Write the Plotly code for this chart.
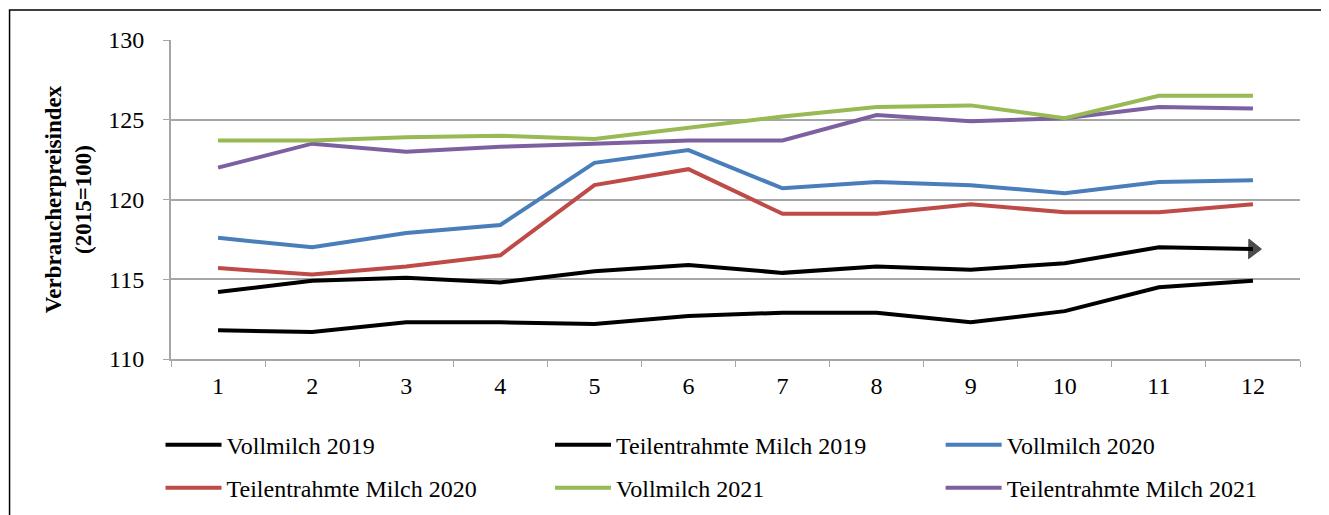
import plotly.graph_objects as go

months = [1, 2, 3, 4, 5, 6, 7, 8, 9, 10, 11, 12]

voll_2019 = [114.2, 114.9, 115.1, 114.8, 115.5, 115.9, 115.4, 115.8, 115.6, 116.0, 117.0, 116.9]
teil_2019 = [111.8, 111.7, 112.3, 112.3, 112.2, 112.7, 112.9, 112.9, 112.3, 113.0, 114.5, 114.9]
voll_2020 = [117.6, 117.0, 117.9, 118.4, 122.3, 123.1, 120.7, 121.1, 120.9, 120.4, 121.1, 121.2]
teil_2020 = [115.7, 115.3, 115.8, 116.5, 120.9, 121.9, 119.1, 119.1, 119.7, 119.2, 119.2, 119.7]
voll_2021 = [123.7, 123.7, 123.9, 124.0, 123.8, 124.5, 125.2, 125.8, 125.9, 125.1, 126.5, 126.5]
teil_2021 = [122.0, 123.5, 123.0, 123.3, 123.5, 123.7, 123.7, 125.3, 124.9, 125.1, 125.8, 125.7]

y_ticks = [110, 115, 120, 125, 130]

FONT = "Liberation Serif, Times New Roman, serif"
GRID = "#A6A6A6"

fig = go.Figure()

# (name, values, colour, legend slot) - legend slots: 1-3 first row, 4-6 second row
series = [
    ("Teilentrahmte Milch 2021", teil_2021, "#7D60A0", "legend6"),
    ("Vollmilch 2021", voll_2021, "#98B954", "legend5"),
    ("Teilentrahmte Milch 2020", teil_2020, "#BE4B48", "legend4"),
    ("Vollmilch 2020", voll_2020, "#4A7EBB", "legend3"),
    ("Teilentrahmte Milch 2019", teil_2019, "#000000", "legend2"),
]

for name, values, color, leg in series:
    fig.add_trace(
        go.Scatter(
            x=months,
            y=values,
            mode="lines",
            name=name,
            line=dict(color=color, width=4),
            legend=leg,
            showlegend=True,
        )
    )

# Vollmilch 2019 ends with an arrow head
arrow_sizes = [0] * (len(months) - 1) + [17]
fig.add_trace(
    go.Scatter(
        x=months,
        y=voll_2019,
        mode="lines+markers",
        name="Vollmilch 2019",
        line=dict(color="#000000", width=4),
        marker=dict(
            symbol="triangle-up",
            angleref="previous",
            size=arrow_sizes,
            color="#000000",
            line=dict(width=1, color="#000000"),
        ),
        legend="legend",
        showlegend=True,
    )
)

legend_common = dict(
    orientation="h",
    xanchor="left",
    yanchor="middle",
    font=dict(family=FONT, size=24, color="#000000"),
    bgcolor="rgba(0,0,0,0)",
    itemwidth=56,
)

col_x = [-0.0093, 0.3357, 0.6817]
row_y = [-0.27, -0.405]

legends = {}
for i in range(6):
    key = "legend" if i == 0 else "legend%d" % (i + 1)
    legends[key] = dict(x=col_x[i % 3], y=row_y[i // 3], **legend_common)

fig.update_layout(
    width=1329,
    height=515,
    showlegend=True,
    plot_bgcolor="white",
    paper_bgcolor="white",
    margin=dict(l=163, r=37, t=32, b=164),
    font=dict(family=FONT, size=24, color="#000000"),
    xaxis=dict(
        type="category",
        range=[-0.5, 11.5],
        tickson="boundaries",
        ticks="outside",
        ticklen=6,
        tickcolor=GRID,
        showline=True,
        linecolor=GRID,
        linewidth=2,
        showgrid=False,
        tickfont=dict(family=FONT, size=24),
        ticklabelstandoff=4,
    ),
    yaxis=dict(
        range=[110, 130],
        tickvals=y_ticks,
        ticks="outside",
        ticklen=6,
        tickcolor=GRID,
        showline=True,
        linecolor=GRID,
        linewidth=2,
        gridcolor=GRID,
        gridwidth=2,
        zeroline=False,
        tickfont=dict(family=FONT, size=24),
        ticklabelstandoff=14,
        title=dict(
            text="<b>Verbraucherpreisindex<br>(2015=100)</b>",
            font=dict(family=FONT, size=23),
            standoff=10,
        ),
    ),
    shapes=[
        dict(
            type="rect",
            xref="paper",
            yref="paper",
            x0=-0.143,
            x1=1.024,
            y0=-0.6,
            y1=1.094,
            line=dict(color="#000000", width=1.5),
            layer="below",
        )
    ],
    **legends,
)

fig.write_html("out.html")
